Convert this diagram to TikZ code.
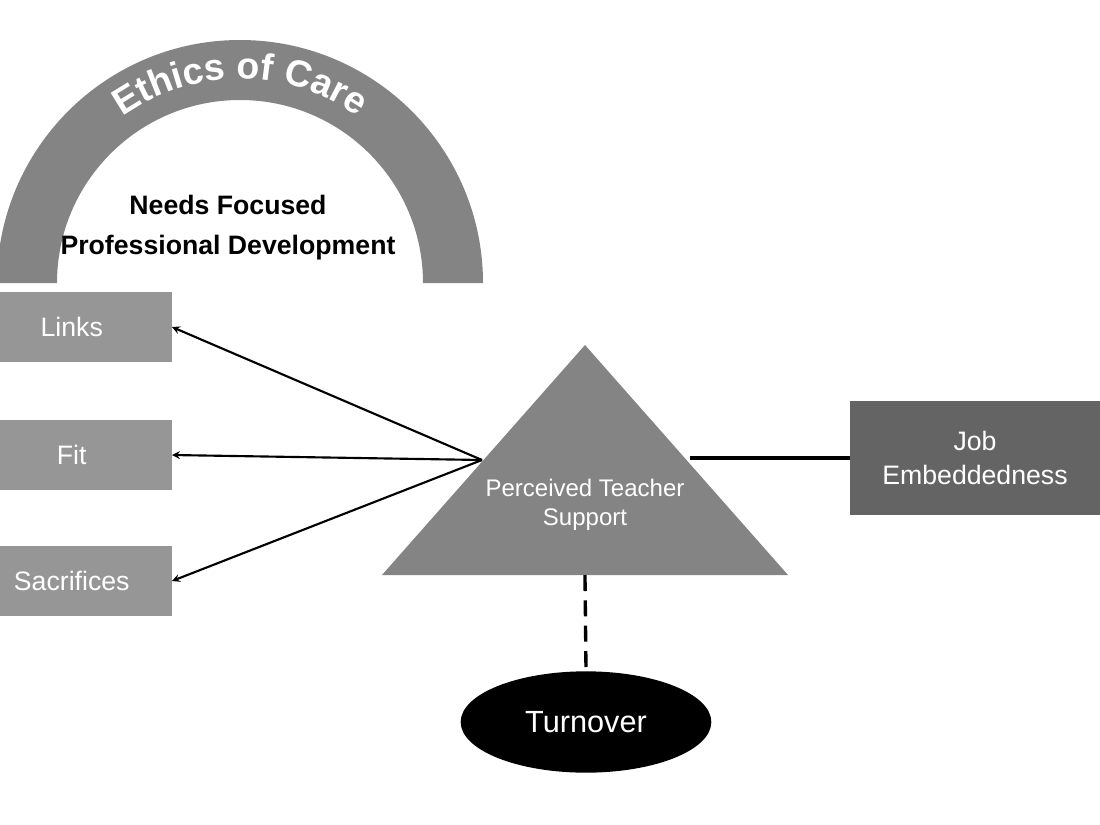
\documentclass[tikz,border=0pt]{standalone}
\usepackage{fontspec}
\setmainfont{Liberation Sans}
\usetikzlibrary{shapes.geometric,decorations.text}
\definecolor{ringgray}{RGB}{132,132,132}
\definecolor{boxgray}{RGB}{150,150,150}
\definecolor{darkgray}{RGB}{100,100,100}
\tikzset{
  sidebox/.style={fill=boxgray,text=white,minimum width=150pt,minimum height=53pt,inner sep=0pt,font=\fontsize{20}{23}\selectfont},
  link/.style={line width=1.6pt,-stealth}
}
\begin{document}
\begin{tikzpicture}[x=0.75pt,y=0.75pt,yscale=-1,xscale=1]
	\useasboundingbox (0,0) rectangle (1100,825);
	\fill[ringgray] (483,283) arc (0:-180:243) -- (57,283) arc (-180:0:183) -- cycle;
	\path[decorate,decoration={text along path,text align=center,text color=white,
	  text={|\fontsize{28}{30}\bfseries\selectfont|Ethics of Care}}]
	  (240,283) ++(205:204) arc (205:335:204);
	\node[align=center,font=\fontsize{20}{30}\bfseries\selectfont] (pd) at (228,228) {Needs Focused\\Professional Development};
	\node[sidebox,anchor=east] (links) at (172,327) {Links};
	\node[sidebox,anchor=east] (fit) at (172,455) {Fit};
	\node[sidebox,anchor=east] (sacr) at (172,581) {Sacrifices};
	\fill[ringgray] (585,345) -- (788,575) -- (382,575) -- cycle;
	\coordinate (hub) at (482,460);
	\coordinate (tright) at (690,458);
	\coordinate (tbase) at (585,575);
	\node[align=center,text=white,font=\fontsize{18}{22}\selectfont] (pts) at (585,505) {Perceived Teacher\\Support};
	\node[fill=darkgray,text=white,align=center,minimum width=187pt,minimum height=85pt,inner sep=0pt,font=\fontsize{20}{25}\selectfont] (job) at (975,458) {Job\\Embeddedness};
	\node[ellipse,fill=black,text=white,minimum width=188pt,minimum height=76pt,inner sep=0pt,font=\fontsize{23}{26}\selectfont] (turn) at (586,722) {Turnover};
	\draw[link] (hub) -- (links.east);
	\draw[link] (hub) -- (fit.east);
	\draw[link] (hub) -- (sacr.east);
	\draw[line width=2.5pt] (tright) -- (job.west);
	\draw[line width=2.5pt,dash pattern=on 12pt off 7pt] (tbase) -- (turn.north);
\end{tikzpicture}
\end{document}
